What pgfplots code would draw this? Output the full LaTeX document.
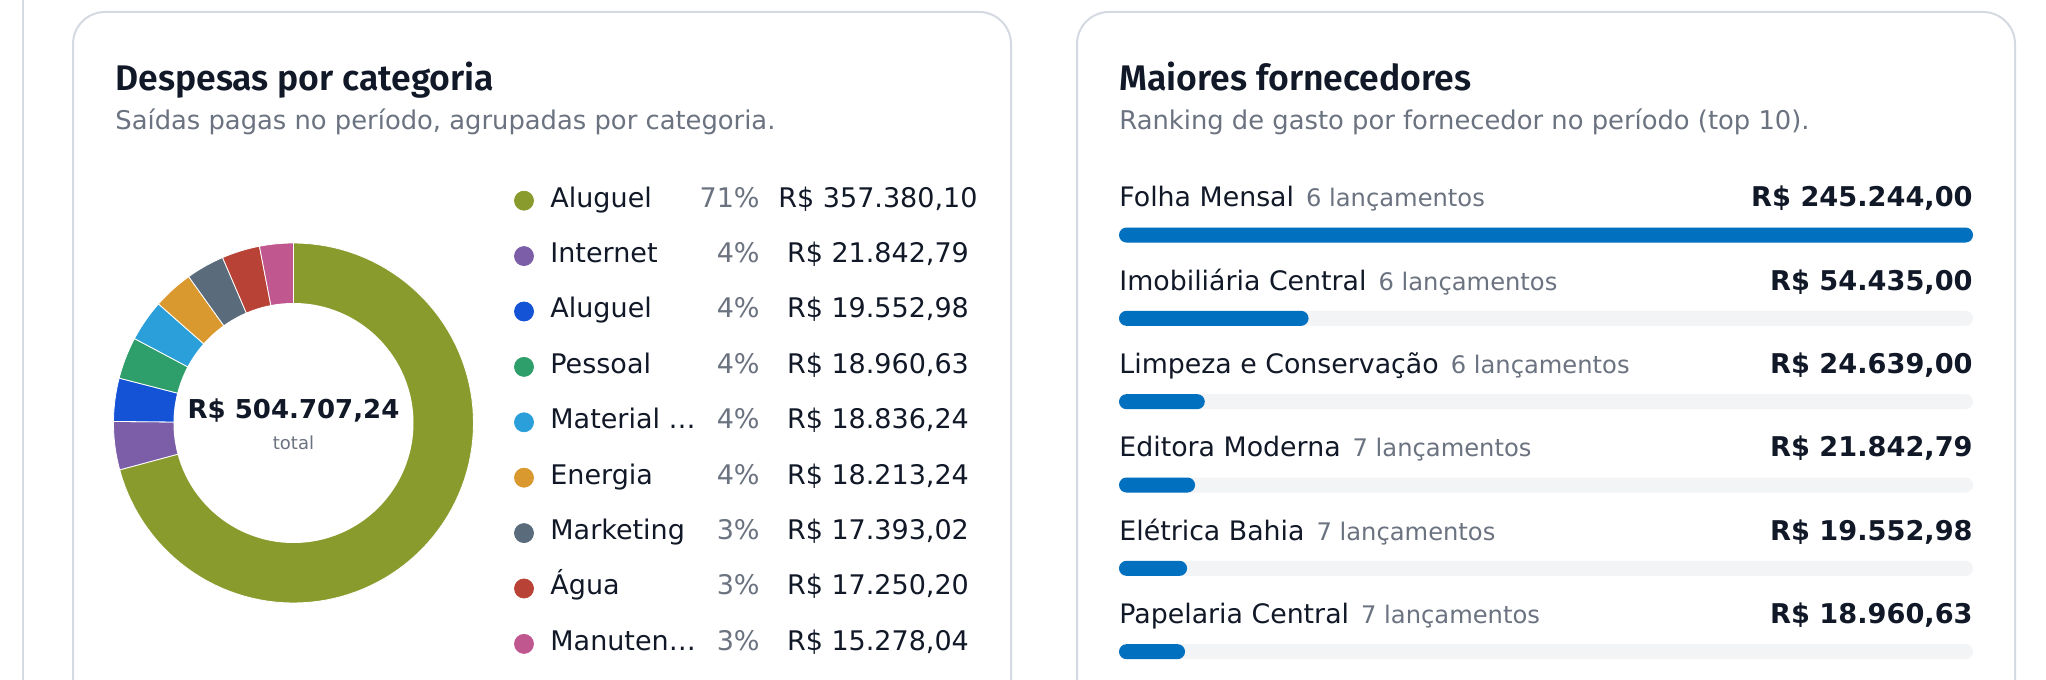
\documentclass[border=0pt]{standalone}
\usepackage{pgfplots}
\pgfplotsset{compat=1.18}
\usepackage{fontspec}
\setmainfont{DejaVu Sans}
\newfontfamily\titlefont{Fira Sans}[BoldFont={Fira Sans SemiBold}]

\definecolor{cOlive}{HTML}{8A9B2E}
\definecolor{cPurple}{HTML}{7B5EA7}
\definecolor{cBlue}{HTML}{1452D6}
\definecolor{cGreen}{HTML}{2E9E6A}
\definecolor{cLight}{HTML}{2A9FDA}
\definecolor{cOrange}{HTML}{D9992E}
\definecolor{cSlate}{HTML}{5A6B7C}
\definecolor{cRed}{HTML}{B84236}
\definecolor{cPink}{HTML}{C1578F}
\definecolor{cTitle}{HTML}{111827}
\definecolor{cText}{HTML}{111827}
\definecolor{cGray}{HTML}{6B7280}
\definecolor{cBorder}{HTML}{D4D9E2}
\definecolor{cTrack}{HTML}{F3F4F6}
\definecolor{cBar}{HTML}{0070BF}

\pgfplotsset{every axis/.append style={ticks=none}}

% angle (degrees, clockwise from top) at the end of each slice
\newcommand\setangle[3]{%
  \begingroup
  \pgfkeys{/pgf/fpu=true,/pgf/fpu/output format=fixed}%
  \pgfmathparse{#2-360*#3/504707.24}%
  \xdef#1{\pgfmathresult}%
  \endgroup}
\def\aA{90}
\setangle\aB{\aA}{357380.10}
\setangle\aC{\aB}{21842.79}
\setangle\aD{\aC}{19552.98}
\setangle\aE{\aD}{18960.63}
\setangle\aF{\aE}{18836.24}
\setangle\aG{\aF}{18213.24}
\setangle\aH{\aG}{17393.02}
\setangle\aI{\aH}{17250.20}
\setangle\aJ{\aI}{15278.04}

\begin{document}
\begin{tikzpicture}[x=0.5pt,y=0.5pt,
  ttl/.style={anchor=base west, inner sep=0pt, font=\titlefont\bfseries\fontsize{17.8}{21}\selectfont, text=cTitle},
  sub/.style={anchor=base west, inner sep=0pt, font=\fontsize{12.9}{15}\selectfont, text=cGray},
  lname/.style={anchor=base west, inner sep=0pt, font=\fontsize{13.5}{16}\selectfont, text=cText},
  lpct/.style={anchor=base east, inner sep=0pt, font=\fontsize{13.5}{16}\selectfont, text=cGray},
  lval/.style={anchor=base, inner sep=0pt, font=\fontsize{13.5}{16}\selectfont, text=cText},
  rname/.style={anchor=base west, inner sep=0pt, font=\fontsize{13.4}{16}\selectfont, text=cText},
  rval/.style={anchor=base east, inner sep=0pt, font=\bfseries\fontsize{13.6}{16}\selectfont, text=cText},
  slice/.style={draw=white, line width=0.4pt, samples=100}
]
\useasboundingbox (0,0) rectangle (2046,680);
\fill[white] (0,0) rectangle (2046,680);
\draw[cBorder, line width=1pt] (23,0) -- (23,680);
\draw[cBorder, line width=1pt, rounded corners=16pt] (73,0) -- (73,668) -- (1011,668) -- (1011,0);
\draw[cBorder, line width=1pt, rounded corners=16pt] (1077,0) -- (1077,668) -- (2015,668) -- (2015,0);

% titles
\node[ttl] at (115,589) {Despesas por categoria};
\node[sub] at (115,550) {Saídas pagas no período, agrupadas por categoria.};
\node[ttl] at (1119,589) {Maiores fornecedores};
\node[sub] at (1119,550) {Ranking de gasto por fornecedor no período (top 10).};

% donut
\begin{axis}[at={(56.75pt,38.5pt)}, anchor=south west, scale only axis, width=180pt, height=180pt,
  xmin=-1, xmax=1, ymin=-1, ymax=1, hide axis, clip=false]
\addplot[slice, fill=cOlive,  domain=\aB:\aA] ({cos(x)},{sin(x)}) -- (0,0) -- cycle;
\addplot[slice, fill=cPurple, domain=\aC:\aB] ({cos(x)},{sin(x)}) -- (0,0) -- cycle;
\addplot[slice, fill=cBlue,   domain=\aD:\aC] ({cos(x)},{sin(x)}) -- (0,0) -- cycle;
\addplot[slice, fill=cGreen,  domain=\aE:\aD] ({cos(x)},{sin(x)}) -- (0,0) -- cycle;
\addplot[slice, fill=cLight,  domain=\aF:\aE] ({cos(x)},{sin(x)}) -- (0,0) -- cycle;
\addplot[slice, fill=cOrange, domain=\aG:\aF] ({cos(x)},{sin(x)}) -- (0,0) -- cycle;
\addplot[slice, fill=cSlate,  domain=\aH:\aG] ({cos(x)},{sin(x)}) -- (0,0) -- cycle;
\addplot[slice, fill=cRed,    domain=\aI:\aH] ({cos(x)},{sin(x)}) -- (0,0) -- cycle;
\addplot[slice, fill=cPink,   domain=\aJ:\aI] ({cos(x)},{sin(x)}) -- (0,0) -- cycle;
\fill[white] (0,0) circle[radius=60pt];
\end{axis}
\node[anchor=base, inner sep=0pt, font=\bfseries\fontsize{13}{15}\selectfont, text=cText] at (293.5,261) {R\$ 504.707,24};
\node[anchor=base, inner sep=0pt, font=\fontsize{9}{11}\selectfont, text=cGray] at (293.5,230) {total};

% legend dots (pixel axis over the legend column)
\begin{axis}[at={(250pt,0pt)}, anchor=south west, scale only axis, width=30pt, height=340pt,
  xmin=500, xmax=560, ymin=0, ymax=680, hide axis, clip=false]
\addplot[only marks, mark=*, mark size=4.75pt, color=cOlive] coordinates {(524,479.3)};
\addplot[only marks, mark=*, mark size=4.75pt, color=cPurple] coordinates {(524,423.9)};
\addplot[only marks, mark=*, mark size=4.75pt, color=cBlue] coordinates {(524,368.5)};
\addplot[only marks, mark=*, mark size=4.75pt, color=cGreen] coordinates {(524,313.1)};
\addplot[only marks, mark=*, mark size=4.75pt, color=cLight] coordinates {(524,257.7)};
\addplot[only marks, mark=*, mark size=4.75pt, color=cOrange] coordinates {(524,202.3)};
\addplot[only marks, mark=*, mark size=4.75pt, color=cSlate] coordinates {(524,146.9)};
\addplot[only marks, mark=*, mark size=4.75pt, color=cRed] coordinates {(524,91.5)};
\addplot[only marks, mark=*, mark size=4.75pt, color=cPink] coordinates {(524,36.1)};
\end{axis}

% legend text
\node[lname] at (550,472.8) {Aluguel};      \node[lpct] at (760,472.8) {71\%}; \node[lval] at (878,472.8) {R\$ 357.380,10};
\node[lname] at (550,417.4) {Internet};     \node[lpct] at (760,417.4) {4\%};  \node[lval] at (878,417.4) {R\$ 21.842,79};
\node[lname] at (550,362.0) {Aluguel};      \node[lpct] at (760,362.0) {4\%};  \node[lval] at (878,362.0) {R\$ 19.552,98};
\node[lname] at (550,306.6) {Pessoal};      \node[lpct] at (760,306.6) {4\%};  \node[lval] at (878,306.6) {R\$ 18.960,63};
\node[lname] at (550,251.2) {Material …};   \node[lpct] at (760,251.2) {4\%};  \node[lval] at (878,251.2) {R\$ 18.836,24};
\node[lname] at (550,195.8) {Energia};      \node[lpct] at (760,195.8) {4\%};  \node[lval] at (878,195.8) {R\$ 18.213,24};
\node[lname] at (550,140.4) {Marketing};    \node[lpct] at (760,140.4) {3\%};  \node[lval] at (878,140.4) {R\$ 17.393,02};
\node[lname] at (550,85.0) {Água};          \node[lpct] at (760,85.0) {3\%};   \node[lval] at (878,85.0) {R\$ 17.250,20};
\node[lname] at (550,29.6) {Manuten…};      \node[lpct] at (760,29.6) {3\%};   \node[lval] at (878,29.6) {R\$ 15.278,04};

% supplier bars
\begin{axis}[at={(559.5pt,-6.665pt)}, anchor=south west, scale only axis, width=427pt, height=250pt,
  xmin=0, xmax=245244, ymin=-0.5, ymax=5.5, y dir=reverse, hide axis, clip=false,
  xbar, bar width=7.5pt, bar shift=0pt]
\addplot[fill=cTrack, draw=none, rounded corners=3.75pt] coordinates {(245244,0) (245244,1) (245244,2) (245244,3) (245244,4) (245244,5)};
\addplot[fill=cBar, draw=none, rounded corners=3.75pt] coordinates {(245244,0) (54435,1) (24639,2) (21842.79,3) (19552.98,4) (18960.63,5)};
\end{axis}

\node[rname] at (1119,473.0) {Folha Mensal\hspace{6pt}{\color{cGray}\fontsize{12.1}{14}\selectfont 6 lançamentos}};
\node[rname] at (1119,389.7) {Imobiliária Central\hspace{6pt}{\color{cGray}\fontsize{12.1}{14}\selectfont 6 lançamentos}};
\node[rname] at (1119,306.3) {Limpeza e Conservação\hspace{6pt}{\color{cGray}\fontsize{12.1}{14}\selectfont 6 lançamentos}};
\node[rname] at (1119,223.0) {Editora Moderna\hspace{6pt}{\color{cGray}\fontsize{12.1}{14}\selectfont 7 lançamentos}};
\node[rname] at (1119,139.7) {Elétrica Bahia\hspace{6pt}{\color{cGray}\fontsize{12.1}{14}\selectfont 7 lançamentos}};
\node[rname] at (1119,56.3) {Papelaria Central\hspace{6pt}{\color{cGray}\fontsize{12.1}{14}\selectfont 7 lançamentos}};
\node[rval] at (1973,473.0) {R\$ 245.244,00};
\node[rval] at (1973,389.7) {R\$ 54.435,00};
\node[rval] at (1973,306.3) {R\$ 24.639,00};
\node[rval] at (1973,223.0) {R\$ 21.842,79};
\node[rval] at (1973,139.7) {R\$ 19.552,98};
\node[rval] at (1973,56.3) {R\$ 18.960,63};
\end{tikzpicture}
\end{document}
